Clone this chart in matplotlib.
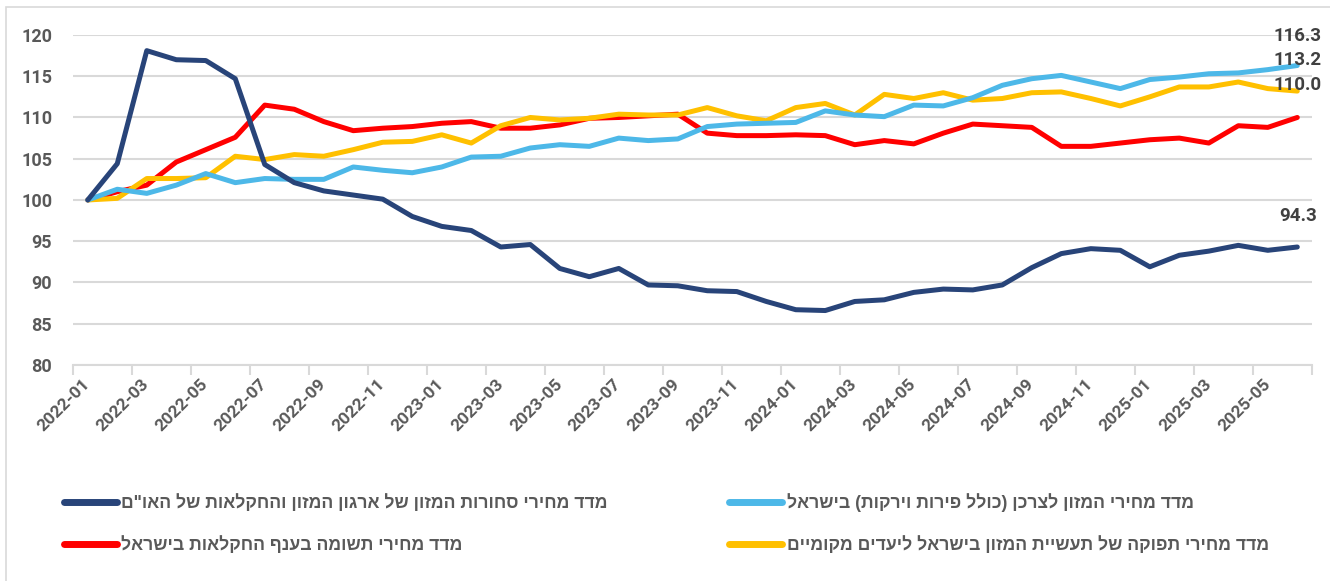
import matplotlib
matplotlib.use("Agg")
import matplotlib.pyplot as plt
from matplotlib.patches import Rectangle
import numpy as np

# monthly index values, 2022-01 = 100
months = [f"{y}-{m:02d}" for y in range(2022, 2026) for m in range(1, 13)][:42]

fao = [100, 104.4, 118.1, 117.0, 116.9, 114.7, 104.3, 102.1, 101.1, 100.6,
       100.1, 98.0, 96.8, 96.3, 94.3, 94.6, 91.7, 90.7, 91.7, 89.7,
       89.6, 89.0, 88.9, 87.7, 86.7, 86.6, 87.7, 87.9, 88.8, 89.2,
       89.1, 89.7, 91.8, 93.5, 94.1, 93.9, 91.9, 93.3, 93.8, 94.5,
       93.9, 94.3]
consumer = [100, 101.3, 100.8, 101.8, 103.2, 102.1, 102.6, 102.5, 102.5, 104.0,
            103.6, 103.3, 104.0, 105.2, 105.3, 106.3, 106.7, 106.5, 107.5, 107.2,
            107.4, 108.9, 109.2, 109.3, 109.4, 110.8, 110.3, 110.1, 111.5, 111.4,
            112.4, 113.9, 114.7, 115.1, 114.3, 113.5, 114.6, 114.9, 115.3, 115.4,
            115.8, 116.3]
agri = [100, 101.0, 101.8, 104.6, 106.1, 107.6, 111.5, 111.0, 109.5, 108.4,
        108.7, 108.9, 109.3, 109.5, 108.7, 108.7, 109.1, 109.9, 110.0, 110.2,
        110.4, 108.1, 107.8, 107.8, 107.9, 107.8, 106.7, 107.2, 106.8, 108.1,
        109.2, 109.0, 108.8, 106.5, 106.5, 106.9, 107.3, 107.5, 106.9, 109.0,
        108.8, 110.0]
industry = [100, 100.2, 102.6, 102.6, 102.7, 105.3, 104.9, 105.5, 105.3, 106.1,
            107.0, 107.1, 107.9, 106.9, 109.0, 110.0, 109.7, 109.9, 110.4, 110.3,
            110.3, 111.2, 110.2, 109.6, 111.2, 111.7, 110.3, 112.8, 112.3, 113.0,
            112.1, 112.3, 113.0, 113.1, 112.3, 111.4, 112.5, 113.7, 113.7, 114.3,
            113.5, 113.2]

labels = [
    'מדד מחירי סחורות המזון של ארגון המזון והחקלאות של האו"ם',
    "מדד מחירי תשומה בענף החקלאות בישראל",
    "מדד מחירי המזון לצרכן (כולל פירות וירקות) בישראל",
    "מדד מחירי תפוקה של תעשיית המזון בישראל ליעדים מקומיים",
]


def rtl(s):
    # matplotlib has no bidi support: reverse for display, mirror brackets
    swap = {"(": ")", ")": "("}
    return "".join(swap.get(c, c) for c in reversed(s))


plt.rcParams["font.family"] = ["Roboto", "DejaVu Sans"]

fig = plt.figure(figsize=(13.3, 5.81), dpi=100)
ax = fig.add_axes([0.0549, 0.3718, 0.9316, 0.568])
fig.add_artist(Rectangle((0.0045, -0.01), 1.0, 0.998, transform=fig.transFigure,
                         fill=False, edgecolor="#d9d9d9", lw=1.2))

x = np.arange(len(months))
navy, blue, red, yellow = "#284479", "#4db8e8", "#ff0000", "#ffc000"
lw = 3.6
l_fao, = ax.plot(x, fao, color=navy, lw=lw, zorder=5, solid_capstyle="round")
l_con, = ax.plot(x, consumer, color=blue, lw=lw, zorder=4, solid_capstyle="round")
l_agr, = ax.plot(x, agri, color=red, lw=lw, zorder=2, solid_capstyle="round")
l_ind, = ax.plot(x, industry, color=yellow, lw=lw, zorder=3, solid_capstyle="round")

ax.set_xlim(-0.5, len(months) - 0.5)
ax.set_ylim(80, 120)
ax.set_yticks(range(80, 121, 5))
ax.set_yticklabels([str(v) for v in range(80, 121, 5)], fontweight="bold",
                   fontsize=13, color="#595959")
ax.grid(axis="y", color="#d9d9d9", lw=1.5)
ax.set_axisbelow(True)
for s in ["top", "right", "left"]:
    ax.spines[s].set_visible(False)
ax.spines["bottom"].set_color("#d9d9d9")
ax.spines["bottom"].set_linewidth(1.5)
ax.tick_params(axis="y", length=0, pad=15)

# category ticks between months, labels every 2 months
ax.set_xticks(np.arange(-0.5, len(months), 2), minor=False)
ax.set_xticklabels([])
ax.tick_params(axis="x", which="major", length=7, width=1.5, color="#d9d9d9")
ax.set_xticks(x[::2], minor=True)
ax.set_xticklabels(months[::2], minor=True, rotation=45, ha="right", va="center",
                   rotation_mode="anchor", fontsize=12.5, color="#595959",
                   fontweight="bold")
ax.tick_params(axis="x", which="minor", length=0, pad=12)

# end values
ends = [116.3, 113.2, 110.0, 94.3]
ypos = [119.9, 117.0, 113.9, 98.0]
xoff = [0.82, 0.82, 0.82, 0.66]
for lab, yy, dx in zip(ends, ypos, xoff):
    ax.text(x[-1] + dx, yy, f"{lab:.1f}", ha="right", va="center", fontsize=13.5,
            fontweight="bold", color="#404040", zorder=6)

leg = fig.legend([l_fao, l_agr, l_con, l_ind], [rtl(s) for s in labels], ncol=2,
                 loc="upper left", bbox_to_anchor=(0.036, 0.178), frameon=False,
                 handlelength=3.0, handletextpad=0.25, columnspacing=6.9,
                 labelspacing=1.35,
                 prop={"family": ["Liberation Sans", "DejaVu Sans"], "size": 12.7,
                       "weight": "bold"})
for t in leg.get_texts():
    t.set_color("#595959")
for h in leg.legend_handles:
    h.set_linewidth(5)

fig.savefig("out.png", dpi=100)
